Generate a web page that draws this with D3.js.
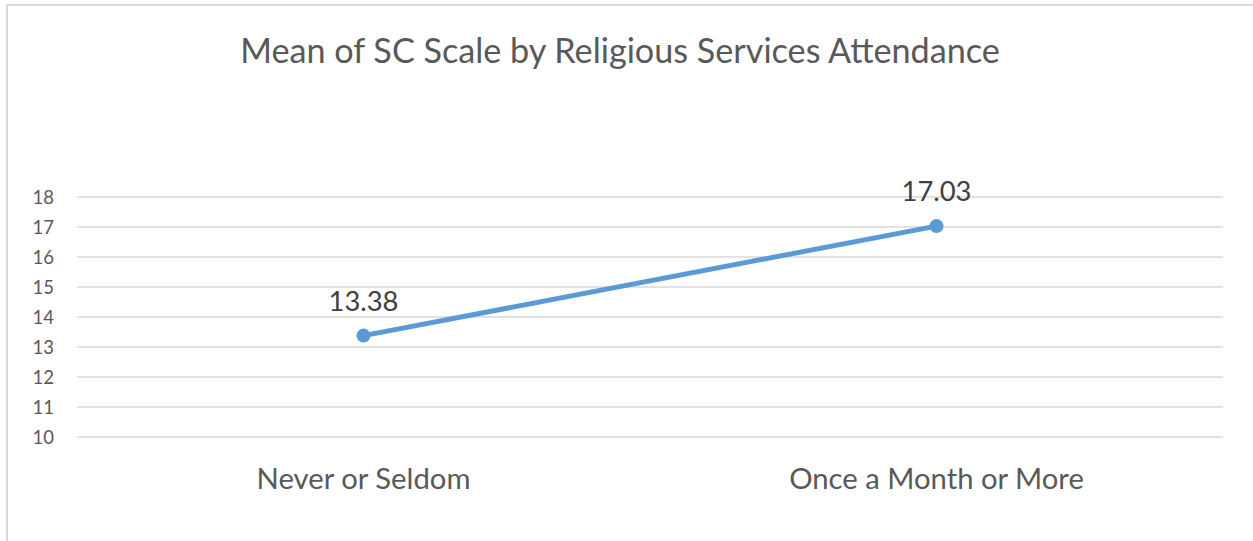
<!DOCTYPE html>
<html>
<head>
<meta charset="utf-8">
<script src="https://cdn.jsdelivr.net/npm/d3@7"></script>
<style>
  html, body { margin: 0; padding: 0; background: #fff; }
  svg { display: block; }
  text { font-family: Lato, "Open Sans", sans-serif; }
</style>
</head>
<body>
<svg id="chart" width="1253" height="541"></svg>
<script>
// Chart content
const chartTitle = "Mean of SC Scale by Religious Services Attendance";
const categories = ["Never or Seldom", "Once a Month or More"];
const meanValues = [13.38, 17.03];
const valueLabels = ["13.38", "17.03"];
const yTicks = [10, 11, 12, 13, 14, 15, 16, 17, 18];

const W = 1253, H = 541;
const svg = d3.select("#chart");
const FONT = "Lato, \"Open Sans\", sans-serif";

// Scale a text element's font size so it spans the given width
function fitWidth(sel, width) {
  sel.each(function () {
    const fs = parseFloat(this.getAttribute("font-size"));
    const w = this.getComputedTextLength();
    if (w > 0) this.setAttribute("font-size", (fs * width / w).toFixed(2));
  });
}

// Outer chart frame (top and left edges visible)
svg.append("line").attr("x1", 7).attr("x2", W).attr("y1", 5).attr("y2", 5)
  .attr("stroke", "#d9d9d9").attr("stroke-width", 2);
svg.append("line").attr("x1", 7).attr("x2", 7).attr("y1", 5).attr("y2", H)
  .attr("stroke", "#d9d9d9").attr("stroke-width", 2);

const plot = { left: 77, right: 1223, top: 197, bottom: 437 };

const x = d3.scaleBand().domain(categories).range([plot.left, plot.right]);
const y = d3.scaleLinear().domain([10, 18]).range([plot.bottom, plot.top]);

// Horizontal gridlines
svg.append("g").selectAll("line").data(yTicks).join("line")
  .attr("x1", plot.left).attr("x2", plot.right)
  .attr("y1", d => y(d)).attr("y2", d => y(d))
  .attr("stroke", "#d9d9d9").attr("stroke-width", 1.5);

// Y axis labels
const yAxis = d3.axisLeft(y).tickValues(yTicks).tickSize(0).tickPadding(0);
const yg = svg.append("g").attr("transform", "translate(54,0)").call(yAxis);
yg.select(".domain").remove();
yg.selectAll("text").attr("font-size", 18.5).attr("fill", "#595959")
  .attr("font-family", FONT).attr("dy", "0.36em");

// X axis labels
const xAxis = d3.axisBottom(x).tickSize(0).tickPadding(0);
const xg = svg.append("g").attr("transform", "translate(0,489)").call(xAxis);
xg.select(".domain").remove();
xg.selectAll("text").attr("font-size", 27).attr("fill", "#595959")
  .attr("font-family", FONT).attr("dy", 0);
fitWidth(xg.selectAll("text").filter((d, i) => i === 0), 214);
xg.selectAll("text").filter((d, i) => i === 1)
  .attr("font-size", xg.select("text").attr("font-size"));

// Title
const title = svg.append("text").attr("x", 620).attr("y", 63).attr("text-anchor", "middle")
  .attr("font-size", 32).attr("fill", "#595959").text(chartTitle);
fitWidth(title, 760);

const pts = categories.map((c, i) => ({ c, v: meanValues[i], label: valueLabels[i] }));
const cx = d => x(d.c) + x.bandwidth() / 2;

// Series line
svg.append("path").datum(pts)
  .attr("fill", "none").attr("stroke", "#5b9bd5").attr("stroke-width", 5)
  .attr("stroke-linecap", "round")
  .attr("d", d3.line().x(cx).y(d => y(d.v)));

// Markers
svg.append("g").selectAll("circle").data(pts).join("circle")
  .attr("cx", cx).attr("cy", d => y(d.v)).attr("r", 7)
  .attr("fill", "#5b9bd5");

// Data labels
const dl = svg.append("g").selectAll("text").data(pts).join("text")
  .attr("x", cx).attr("y", d => y(d.v) - 25)
  .attr("text-anchor", "middle").attr("font-size", 27).attr("fill", "#404040")
  .text(d => d.label);
fitWidth(dl.filter((d, i) => i === 0), 70);
dl.filter((d, i) => i === 1).attr("font-size", dl.attr("font-size"));
</script>
</body>
</html>
